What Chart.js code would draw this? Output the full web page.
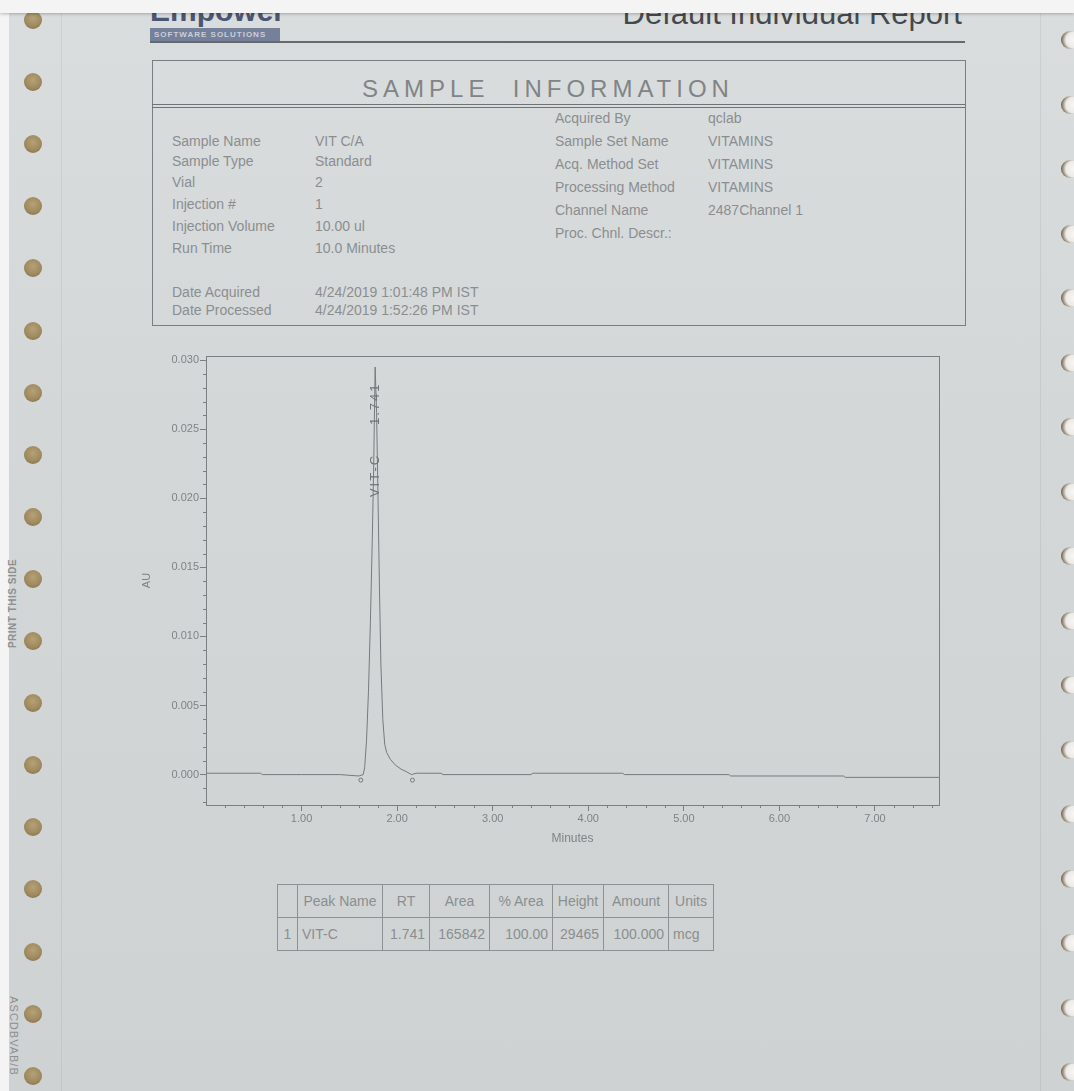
<!DOCTYPE html>
<html>
<head>
<meta charset="utf-8">
<script src="https://cdn.jsdelivr.net/npm/chart.js@4.4.1/dist/chart.umd.min.js"></script>
<style>
html,body{margin:0;padding:0;}
body{width:1074px;height:1091px;position:relative;overflow:hidden;
  background:linear-gradient(180deg,#dadddd 0%,#d4d7d7 40%,#cfd2d2 100%);
  font-family:"Liberation Sans",Arial,sans-serif;color:#85898c;}
.a{position:absolute;white-space:nowrap;}
.txt{font-size:14px;line-height:16px;color:#8a8e91;}
.line{position:absolute;background:#6f7375;}
.hole{position:absolute;width:18px;height:18px;border-radius:50%;
  background:radial-gradient(circle at 50% 40%,#b6a278 0%,#a08a5f 55%,#7c6849 100%);}
.rhole{position:absolute;width:18px;height:18px;border-radius:50%;
  background:radial-gradient(circle at 70% 50%,#f7f6f4 0%,#ecebe8 50%,#7a6a55 78%,#3f342a 100%);}
table.pk{position:absolute;border-collapse:collapse;font-size:14px;color:#8a8e91;}
table.pk td{border:1px solid #8d9193;padding:0 4px;height:32px;}
</style>
</head>
<body>
<script>
// ---------- DATA ----------
const timeMin = [0.00, 0.57, 0.59, 1.00, 1.40, 1.60, 1.645, 1.66, 1.68, 1.70, 1.72, 1.74, 1.755, 1.77, 1.785, 1.80, 1.815, 1.83, 1.85, 1.87, 1.89, 1.93, 1.98, 2.04, 2.10, 2.15, 2.20, 2.46, 2.48, 3.40, 3.42, 4.36, 4.38, 5.47, 5.49, 6.67, 6.69, 7.67];
const absorbanceAU = [0.0001, 0.0001, 0.0000, 0.0000, 0.0000, -0.0001, 0.0000, 0.0005, 0.0025, 0.0060, 0.0110, 0.0170, 0.0225, 0.0295, 0.0262, 0.0200, 0.0135, 0.0080, 0.0040, 0.0022, 0.0016, 0.0011, 0.0007, 0.0004, 0.0002, 0.0000, 0.0001, 0.0001, 0.0000, 0.0000, 0.0001, 0.0001, 0.0000, 0.0000, -0.0001, -0.0001, -0.0002, -0.0002];
const integrationMarkMin = [1.62, 2.16];
const integrationMarkAU = [-0.0004, -0.0004];
const xTickMinutes = [1, 2, 3, 4, 5, 6, 7];
const yTickAU = [0.000, 0.005, 0.010, 0.015, 0.020, 0.025, 0.030];
const peakName = "VIT-C";
const peakRTLabel = "1.741";
const peakApexMin = 1.77;
const peakApexAU = 0.0295;

const infoLeftLabels = ["Sample Name", "Sample Type", "Vial", "Injection #", "Injection Volume", "Run Time", "Date Acquired", "Date Processed"];
const infoLeftValues = ["VIT C/A", "Standard", "2", "1", "10.00 ul", "10.0 Minutes", "4/24/2019 1:01:48 PM IST", "4/24/2019 1:52:26 PM IST"];
const infoRightLabels = ["Acquired By", "Sample Set Name", "Acq. Method Set", "Processing Method", "Channel Name", "Proc. Chnl. Descr.:"];
const infoRightValues = ["qclab", "VITAMINS", "VITAMINS", "VITAMINS", "2487Channel 1", ""];

const tableHeaders = ["", "Peak Name", "RT", "Area", "% Area", "Height", "Amount", "Units"];
const tableRow = ["1", "VIT-C", "1.741", "165842", "100.00", "29465", "100.000", "mcg"];
</script>

<!-- paper decorations -->
<div class="a" style="left:0;top:0;width:9px;height:1091px;background:#f4f4f4;"></div>
<div class="a" style="left:61px;top:0;width:1px;height:1091px;background:rgba(0,0,0,0.05);"></div>
<div class="a" style="left:1040px;top:0;width:1px;height:1091px;background:rgba(0,0,0,0.06);"></div>
<div id="holes"></div>
<div class="a" style="left:-38px;top:598px;width:100px;text-align:center;transform:rotate(-90deg);font-size:10px;font-weight:bold;color:#8c9093;letter-spacing:0.5px;">PRINT THIS SIDE</div>
<div class="a" style="left:-36px;top:1030px;width:100px;text-align:center;transform:rotate(90deg);font-size:11px;color:#8c9093;letter-spacing:1px;">ASCDBVAB/B</div>

<!-- header -->
<div class="a" style="left:150px;top:4px;width:130px;height:24px;overflow:hidden;">
  <div style="font:bold 30px 'Liberation Sans',Arial;color:#4a5673;line-height:30px;margin-top:-8px;">Empower2</div>
</div>
<div class="a" style="left:150px;top:28px;width:130px;height:14px;background:#75809a;overflow:hidden;">
  <div style="font:bold 8px 'Liberation Sans',Arial;color:#c9cfdb;line-height:14px;padding-left:4px;letter-spacing:1px;">SOFTWARE SOLUTIONS</div>
</div>
<div class="a" style="right:112px;top:-3px;font-size:31px;line-height:34px;color:#46494c;">Default Individual Report</div>
<div class="line" style="left:150px;top:41px;width:815px;height:2px;background:#65696b;"></div>

<!-- sample information box -->
<div class="a" style="left:152px;top:60px;width:812px;height:264px;border:1px solid #7a7e80;"></div>
<div class="a" style="left:152px;top:76px;width:792px;text-align:center;font-size:24px;line-height:26px;letter-spacing:5px;color:#808487;">SAMPLE&nbsp;&nbsp;INFORMATION</div>
<div class="line" style="left:152px;top:104px;width:813px;height:1px;"></div>
<div class="line" style="left:152px;top:107px;width:813px;height:1px;"></div>
<div id="info"></div>

<!-- chart -->
<div class="a" style="left:140px;top:340px;width:815px;height:514px;">
  <canvas id="c" width="815" height="514"></canvas>
</div>

<div id="tbl"></div>

<!-- top white strip -->
<div class="a" style="left:0;top:0;width:1074px;height:13px;background:#f4f4f4;box-shadow:0 1px 3px rgba(0,0,0,0.25);"></div>

<script>
// holes
(function(){
  const h = document.getElementById('holes');
  let s = '';
  for (let k = 0; k < 18; k++) {
    const y = 20 + 62.1 * k;
    s += '<div class="hole" style="left:24px;top:' + (y - 9) + 'px"></div>';
  }
  for (let k = 0; k < 17; k++) {
    const y = 40 + 64.5 * k;
    s += '<div class="rhole" style="left:1061px;top:' + (y - 9) + 'px"></div>';
  }
  h.innerHTML = s;
})();

// info text
(function(){
  const el = document.getElementById('info');
  const leftY = [141, 161, 182, 204, 226, 248, 292, 310];
  const rightY = [118, 141, 164, 187, 210, 233];
  let s = '';
  infoLeftLabels.forEach((t, i) => {
    s += '<div class="a txt" style="left:172px;top:' + (leftY[i] - 8) + 'px">' + t + '</div>';
    s += '<div class="a txt" style="left:315px;top:' + (leftY[i] - 8) + 'px">' + infoLeftValues[i] + '</div>';
  });
  infoRightLabels.forEach((t, i) => {
    s += '<div class="a txt" style="left:555px;top:' + (rightY[i] - 8) + 'px">' + t + '</div>';
    s += '<div class="a txt" style="left:708px;top:' + (rightY[i] - 8) + 'px">' + infoRightValues[i] + '</div>';
  });
  el.innerHTML = s;
})();

// peak table
(function(){
  const widths = [20, 85, 47, 60, 63, 51, 65, 45];
  const alignH = ['center','center','center','center','center','center','center','center'];
  const alignR = ['center','left','right','right','right','right','right','left'];
  let s = '<table class="pk" style="left:277px;top:884px;"><tr>';
  tableHeaders.forEach((t, i) => { s += '<td style="width:' + (widths[i] - 9) + 'px;text-align:' + alignH[i] + '">' + t + '</td>'; });
  s += '</tr><tr>';
  tableRow.forEach((t, i) => { s += '<td style="text-align:' + alignR[i] + '">' + t + '</td>'; });
  s += '</tr></table>';
  document.getElementById('tbl').innerHTML = s;
})();

// chart
const axisColor = '#7b7f82';
const tickFont = {family: "'Liberation Sans Narrow','Liberation Sans',Arial", size: 11};
const xMinorStep = 0.2, yMinorStep = 0.001;

const framePlugin = {
  id: 'frame',
  afterDraw(chart) {
    const {ctx, chartArea: a, scales: {x, y}} = chart;
    ctx.save();
    ctx.strokeStyle = axisColor;
    ctx.lineWidth = 1;
    ctx.strokeRect(Math.round(a.left) + 0.5, Math.round(a.top) + 0.5, Math.round(a.right - a.left), Math.round(a.bottom - a.top));
    // minor ticks
    ctx.beginPath();
    for (let v = xMinorStep; v < x.max; v += xMinorStep) {
      if (Math.abs(v - Math.round(v)) < 1e-6) continue;
      const px = Math.round(x.getPixelForValue(v)) + 0.5;
      ctx.moveTo(px, a.bottom); ctx.lineTo(px, a.bottom + 3);
    }
    for (let v = -0.002; v <= y.max + 1e-9; v += yMinorStep) {
      const r = Math.round(v / 0.005) * 0.005;
      if (Math.abs(v - r) < 1e-7) continue;
      const py = Math.round(y.getPixelForValue(v)) + 0.5;
      ctx.moveTo(a.left - 3, py); ctx.lineTo(a.left, py);
    }
    ctx.stroke();
    ctx.restore();
  },
  afterDatasetsDraw(chart) {
    const {ctx, scales: {x, y}} = chart;
    const px = x.getPixelForValue(peakApexMin);
    const py = y.getPixelForValue(peakApexAU);
    ctx.save();
    ctx.translate(px, py);
    ctx.rotate(-Math.PI / 2);
    ctx.fillStyle = '#6f7376';
    ctx.font = "13px 'Liberation Sans',Arial";
    try { ctx.letterSpacing = '2px'; } catch (e) {}
    ctx.textBaseline = 'middle';
    ctx.textAlign = 'left';
    ctx.fillText(peakName, -130, 0);
    ctx.fillText(peakRTLabel, -58, 0);
    ctx.restore();
  }
};

new Chart(document.getElementById('c'), {
  type: 'line',
  data: {
    datasets: [
      {
        data: timeMin.map((t, i) => ({x: t, y: absorbanceAU[i]})),
        borderColor: '#767a7d', borderWidth: 1, pointRadius: 0, tension: 0, fill: false
      },
      {
        data: integrationMarkMin.map((t, i) => ({x: t, y: integrationMarkAU[i]})),
        showLine: false, pointRadius: 2, pointStyle: 'circle',
        borderColor: '#74787b', borderWidth: 1, backgroundColor: 'rgba(0,0,0,0)'
      }
    ]
  },
  options: {
    responsive: false, animation: false,
    layout: {padding: {top: 16, right: 16, bottom: 5, left: 0}},
    plugins: {legend: {display: false}, tooltip: {enabled: false}},
    scales: {
      x: {
        type: 'linear', min: 0, max: 7.67,
        afterBuildTicks: s => { s.ticks = xTickMinutes.map(v => ({value: v})); },
        afterFit: s => { s.height = 44; },
        grid: {drawOnChartArea: false, drawTicks: true, tickLength: 6, color: axisColor},
        border: {display: false},
        ticks: {callback: v => Number(v).toFixed(2), color: '#7f8386', font: tickFont, padding: 1, maxRotation: 0, autoSkip: false},
        title: {display: true, text: 'Minutes', color: '#7f8386', font: {family: "'Liberation Sans Narrow','Liberation Sans',Arial", size: 12}, padding: {top: 2, bottom: 3}}
      },
      y: {
        type: 'linear', min: -0.0022, max: 0.0303,
        afterBuildTicks: s => { s.ticks = yTickAU.map(v => ({value: v})); },
        afterFit: s => { s.width = 66; },
        grid: {drawOnChartArea: false, drawTicks: true, tickLength: 6, color: axisColor},
        border: {display: false},
        ticks: {callback: v => Number(v).toFixed(3), color: '#7f8386', font: tickFont, padding: 1, autoSkip: false},
        title: {display: true, text: 'AU', color: '#7f8386', font: {family: "'Liberation Sans Narrow','Liberation Sans',Arial", size: 11}, padding: 0}
      }
    }
  },
  plugins: [framePlugin]
});
</script>
</body>
</html>
